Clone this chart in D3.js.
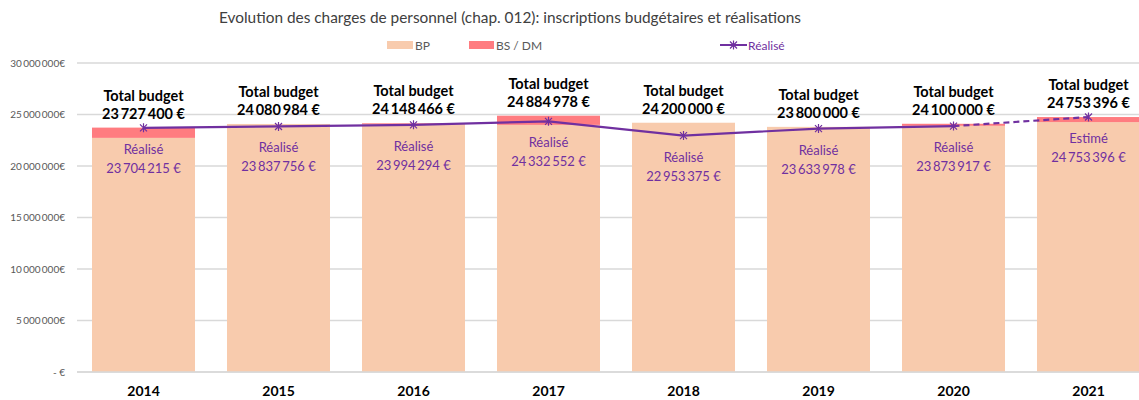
<!DOCTYPE html>
<html>
<head>
<meta charset="utf-8">
<script src="https://cdn.jsdelivr.net/npm/d3@7"></script>
<style>
  body { margin: 0; background: #fff; }
  svg { font-family: Lato, "Open Sans", sans-serif; }
</style>
</head>
<body>
<svg id="chart" width="1139" height="400"></svg>
<script>
// values
var years = ["2014", "2015", "2016", "2017", "2018", "2019", "2020", "2021"];
var totalBudget = [23727400, 24080984, 24148466, 24884978, 24200000, 23800000, 24100000, 24753396];
var bp = [22730000, 24080984, 24080984, 23990000, 24200000, 23800000, 23900000, 24260000];
var realise = [23704215, 23837756, 23994294, 24332552, 22953375, 23633978, 23873917, 24753396];
var realiseLabel = ["Réalisé", "Réalisé", "Réalisé", "Réalisé", "Réalisé", "Réalisé", "Réalisé", "Estimé"];
var yTicks = [0, 5000000, 10000000, 15000000, 20000000, 25000000, 30000000];

var bpColor = "#F8CBAD", bsColor = "#FF7C80", lineColor = "#7030A0";

var svg = d3.select("#chart");

var x = d3.scaleBand().domain(years).range([76, 1156]).paddingInner(0.237).paddingOuter(0.1185);
var y = d3.scaleLinear().domain([0, 30000000]).range([372, 63]);

// number formatting with narrow spaces, like the original
var nb = "\u2009";
function fmt(v) {
  return d3.format(",")(v).replace(/,/g, nb) + " €";
}

// title
svg.append("text")
  .attr("x", 510).attr("y", 23)
  .attr("text-anchor", "middle")
  .attr("font-size", 15.4)
  .attr("fill", "#404040")
  .text("Evolution des charges de personnel (chap. 012): inscriptions budgétaires et réalisations");

// legend
var leg = svg.append("g").attr("font-size", 12).attr("fill", "#595959");
leg.append("rect").attr("x", 387).attr("y", 41).attr("width", 26).attr("height", 8).attr("fill", bpColor);
leg.append("text").attr("x", 415).attr("y", 49.5).text("BP");
leg.append("rect").attr("x", 469).attr("y", 41).attr("width", 25).attr("height", 8).attr("fill", bsColor);
leg.append("text").attr("x", 496).attr("y", 49.5).text("BS / DM");
leg.append("line").attr("x1", 720).attr("x2", 747).attr("y1", 45).attr("y2", 45)
  .attr("stroke", lineColor).attr("stroke-width", 2);
leg.append("path").attr("transform", "translate(733.5,45)")
  .attr("d", "M-3.5,-3.5L3.5,3.5M-3.5,3.5L3.5,-3.5M0,-4.5L0,4.5")
  .attr("stroke", lineColor).attr("stroke-width", 1.2);
leg.append("text").attr("x", 748).attr("y", 49.5).attr("fill", lineColor).text("Réalisé");

// gridlines + y axis
var yAxis = d3.axisLeft(y).tickValues(yTicks).tickSize(0).tickPadding(0)
  .tickFormat(function(d) { return d === 0 ? "- €" : d3.format(",")(d).replace(/,/g, nb) + "€"; });
var gy = svg.append("g").attr("transform", "translate(65,0)").call(yAxis);
gy.select(".domain").remove();
gy.selectAll("text").attr("font-size", 10).attr("fill", "#595959").attr("font-family", "Lato, sans-serif");

svg.append("g").selectAll("line").data(yTicks).join("line")
  .attr("x1", 77).attr("x2", 1139)
  .attr("y1", function(d) { return y(d); }).attr("y2", function(d) { return y(d); })
  .attr("stroke", "#d9d9d9").attr("stroke-width", 1.3);

// stacked bars
var rows = years.map(function(yr, i) {
  return { year: yr, bp: bp[i], bs: totalBudget[i] - bp[i], total: totalBudget[i], real: realise[i], lab: realiseLabel[i] };
});

var bars = svg.append("g");
bars.selectAll("rect.bp").data(rows).join("rect").attr("class", "bp")
  .attr("x", function(d) { return x(d.year); })
  .attr("width", x.bandwidth())
  .attr("y", function(d) { return y(d.bp); })
  .attr("height", function(d) { return y(0) - y(d.bp); })
  .attr("fill", bpColor);
bars.selectAll("rect.bs").data(rows).join("rect").attr("class", "bs")
  .attr("x", function(d) { return x(d.year); })
  .attr("width", x.bandwidth())
  .attr("y", function(d) { return y(d.total); })
  .attr("height", function(d) { return y(d.bp) - y(d.total); })
  .attr("fill", bsColor);

// axis baseline redrawn on top
svg.append("line").attr("x1", 77).attr("x2", 1139).attr("y1", y(0)).attr("y2", y(0))
  .attr("stroke", "#d9d9d9").attr("stroke-width", 1.3);

// x axis labels
var xAxis = d3.axisBottom(x).tickSize(0).tickPadding(14);
var gx = svg.append("g").attr("transform", "translate(0," + y(0) + ")").call(xAxis);
gx.select(".domain").remove();
gx.selectAll("text").attr("font-size", 14).attr("font-weight", "bold").attr("fill", "#000").attr("font-family", "Lato, sans-serif");

// realised line (solid up to 2020, dashed for the estimate)
var cx = function(d) { return x(d.year) + x.bandwidth() / 2; };
var line = d3.line().x(cx).y(function(d) { return y(d.real); });
svg.append("path").attr("d", line(rows.slice(0, 7)))
  .attr("fill", "none").attr("stroke", lineColor).attr("stroke-width", 2.2);
svg.append("path").attr("d", line(rows.slice(6)))
  .attr("fill", "none").attr("stroke", lineColor).attr("stroke-width", 2.2).attr("stroke-dasharray", "6,4");

svg.append("g").selectAll("path").data(rows).join("path")
  .attr("transform", function(d) { return "translate(" + cx(d) + "," + y(d.real) + ")"; })
  .attr("d", "M-3.5,-3.5L3.5,3.5M-3.5,3.5L3.5,-3.5M0,-4.5L0,4.5")
  .attr("stroke", lineColor).attr("stroke-width", 1.2);

// total budget labels
var tl = svg.append("g").attr("text-anchor", "middle").attr("font-weight", "bold").attr("font-size", 14.5).attr("fill", "#000");
tl.selectAll("text.t1").data(rows).join("text").attr("class", "t1")
  .attr("x", cx).attr("y", function(d) { return y(d.total) - 27; })
  .text("Total budget");
tl.selectAll("text.t2").data(rows).join("text").attr("class", "t2")
  .attr("x", cx).attr("y", function(d) { return y(d.total) - 9; })
  .text(function(d) { return fmt(d.total); });

// realised labels
var rl = svg.append("g").attr("text-anchor", "middle").attr("font-size", 13).attr("fill", lineColor);
rl.selectAll("text.r1").data(rows).join("text").attr("class", "r1")
  .attr("x", cx).attr("y", function(d) { return y(d.real) + 26; })
  .text(function(d) { return d.lab; });
rl.selectAll("text.r2").data(rows).join("text").attr("class", "r2")
  .attr("x", cx).attr("y", function(d) { return y(d.real) + 45; })
  .text(function(d) { return fmt(d.real); });
</script>
</body>
</html>
